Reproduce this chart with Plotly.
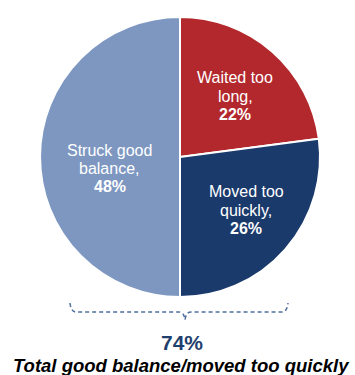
import plotly.graph_objects as go

labels = ["Waited too long", "Moved too quickly", "Struck good balance"]
label_lines = [["Waited too", "long,"], ["Moved too", "quickly,"], ["Struck good", "balance,"]]
values = [22, 26, 48]
colors = ["#B2282D", "#1A3A6C", "#7D97C1"]
total_value = "74%"
total_label = "Total good balance/moved too quickly"

W, H = 355, 375
FONT = "Arial, Liberation Sans, sans-serif"

def px(x, y):
    return x / W, 1 - y / H

fig = go.Figure(go.Pie(
    labels=labels, values=values, textinfo="none",
    sort=False, direction="clockwise", rotation=0,
    marker=dict(colors=colors, line=dict(color="white", width=2)),
    domain=dict(x=[40 / W, 320 / W], y=[1 - 297 / H, 1 - 17 / H]),
    showlegend=False, hoverinfo="label+value",
))

# slice labels (line-by-line placement, pixel anchors are layout, not data)
label_anchor = [(235, 78), (246, 191.5), (110, 150)]
LS = 18.5
for lines, v, (cx, cy) in zip(label_lines, values, label_anchor):
    rows = lines + [f"<b>{v}%</b>"]
    for i, row in enumerate(rows):
        x, y = px(cx, cy + i * LS)
        fig.add_annotation(text=row, x=x, y=y, xref="paper", yref="paper",
                           xanchor="center", yanchor="middle", showarrow=False,
                           font=dict(family=FONT, size=16, color="white"))

# dashed brace
def P(x, y):
    a, b = px(x, y)
    return f"{a:.5f},{b:.5f}"
path = (f"M {P(70,303)} Q {P(71,312)} {P(76,312)} L {P(179,312)} "
        f"Q {P(184,312)} {P(185,320)} Q {P(186,312)} {P(191,312)} "
        f"L {P(282,312)} Q {P(287,312)} {P(288,303)}")
fig.add_shape(type="path", path=path, xref="paper", yref="paper",
              line=dict(color="#4F6F9E", width=1.5, dash="4px,3px"))

x, y = px(181.5, 342.5)
fig.add_annotation(text=f"<b>{total_value}</b>", x=x, y=y,
                   xref="paper", yref="paper", showarrow=False, yanchor="middle",
                   font=dict(family=FONT, size=21, color="#1F3F6E"))
x, y = px(181, 365)
fig.add_annotation(text=f"<b><i>{total_label}</i></b>", x=x, y=y,
                   xref="paper", yref="paper", showarrow=False, yanchor="middle",
                   font=dict(family=FONT, size=18.5, color="black"))

fig.update_layout(width=W, height=H, margin=dict(l=0, r=0, t=0, b=0),
                  paper_bgcolor="white", plot_bgcolor="white")
fig.write_html("out.html", config={"displayModeBar": False},
               post_script="document.body.style.margin='0';")
